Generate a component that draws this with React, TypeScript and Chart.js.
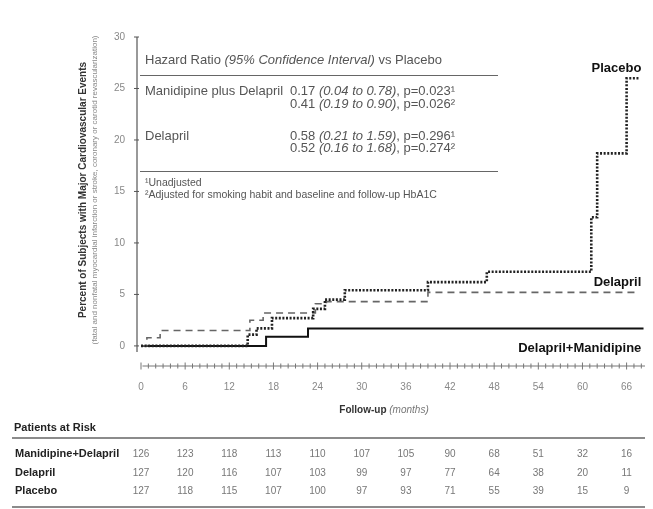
import { useEffect, useRef } from "react";
import { Chart, registerables } from "chart.js";

Chart.register(...registerables);

// Kaplan–Meier step data: event times (months) and cumulative event percentage
const placeboMonths = [0, 14.5, 15.7, 17.8, 23.4, 25.0, 27.7, 39.0, 47.0, 61.2, 62.0, 66.0, 67.8];
const placeboPct = [0, 1.1, 1.7, 2.7, 3.6, 4.5, 5.4, 6.2, 7.2, 12.5, 18.7, 26.0, 26.0];

const delaprilMonths = [0, 0.8, 2.6, 14.8, 16.6, 23.7, 25.2, 39.0, 67.6];
const delaprilPct = [0, 0.8, 1.5, 2.5, 3.2, 4.1, 4.3, 5.2, 5.2];

const comboMonths = [0, 17.0, 22.7, 68.3];
const comboPct = [0, 0.9, 1.7, 1.7];

// Axis ticks
const yTickValues = [0, 5, 10, 15, 20, 25, 30];
const xLabelStep = 6;
const xMinorMonths = Array.from({ length: 69 }, (_, i) => i);

// Patients at risk table
const riskMonths = [0, 6, 12, 18, 24, 30, 36, 42, 48, 54, 60, 66];
const riskRowNames = ["Manidipine+Delapril", "Delapril", "Placebo"];
const riskCombo = [126, 123, 118, 113, 110, 107, 105, 90, 68, 51, 32, 16];
const riskDelapril = [127, 120, 116, 107, 103, 99, 97, 77, 64, 38, 20, 11];
const riskPlacebo = [127, 118, 115, 107, 100, 97, 93, 71, 55, 39, 15, 9];

const FONT = "'Liberation Sans', Arial, sans-serif";

type Seg = { t: string; style?: string };

function drawSegs(ctx: CanvasRenderingContext2D, segs: Seg[], x: number, y: number, size: number, color: string) {
  ctx.fillStyle = color;
  ctx.textBaseline = "middle";
  ctx.textAlign = "left";
  let cx = x;
  for (const s of segs) {
    ctx.font = `${s.style ?? ""} ${size}px ${FONT}`;
    ctx.fillText(s.t, cx, y);
    cx += ctx.measureText(s.t).width;
  }
}

function text(ctx: CanvasRenderingContext2D, t: string, x: number, y: number, font: string, color: string, align: CanvasTextAlign = "left") {
  ctx.font = font;
  ctx.fillStyle = color;
  ctx.textAlign = align;
  ctx.textBaseline = "middle";
  ctx.fillText(t, x, y);
}

const overlay = {
  id: "kmOverlay",
  afterDraw(chart: any) {
    const ctx: CanvasRenderingContext2D = chart.ctx;
    const xs = chart.scales.x;
    const ys = chart.scales.y;
    const area = chart.chartArea;
    ctx.save();

    // y axis line with ticks
    const axX = area.left - 4;
    ctx.strokeStyle = "#555";
    ctx.lineWidth = 1.2;
    ctx.beginPath();
    ctx.moveTo(axX, ys.getPixelForValue(30));
    ctx.lineTo(axX, ys.getPixelForValue(-0.6));
    ctx.stroke();
    ctx.lineWidth = 1;
    for (const v of yTickValues) {
      const py = ys.getPixelForValue(v);
      ctx.beginPath();
      ctx.moveTo(axX - 3, py);
      ctx.lineTo(axX + 2, py);
      ctx.stroke();
    }

    // x axis line with monthly ticks
    const axY = area.bottom;
    ctx.strokeStyle = "#777";
    ctx.beginPath();
    ctx.moveTo(xs.getPixelForValue(0.2), axY);
    ctx.lineTo(area.right, axY);
    ctx.stroke();
    for (const m of xMinorMonths) {
      const px = xs.getPixelForValue(m);
      const h = m % xLabelStep === 0 ? 3.5 : 2.5;
      ctx.beginPath();
      ctx.moveTo(px, axY - h);
      ctx.lineTo(px, axY + h);
      ctx.stroke();
    }

    // axis titles
    ctx.save();
    ctx.translate(83, 190);
    ctx.rotate(-Math.PI / 2);
    text(ctx, "Percent of Subjects with Major Cardiovascular Events", 0, 0, `bold 10px ${FONT}`, "#333", "center");
    ctx.restore();
    ctx.save();
    ctx.translate(95, 190);
    ctx.rotate(-Math.PI / 2);
    ctx.font = `8px ${FONT}`;
    ctx.fillStyle = "#888";
    ctx.textAlign = "center";
    ctx.textBaseline = "middle";
    ctx.fillText("(fatal and nonfatal myocardial infarction or stroke, coronary or carotid revascularization)", 0, 0, 318);
    ctx.restore();

    ctx.font = `bold 10px ${FONT}`;
    const fw = ctx.measureText("Follow-up ").width;
    ctx.font = `italic 10px ${FONT}`;
    const mw = ctx.measureText("(months)").width;
    const fx = 384 - (fw + mw) / 2;
    drawSegs(ctx, [{ t: "Follow-up ", style: "bold" }], fx, 410, 10, "#333");
    drawSegs(ctx, [{ t: "(months)", style: "italic" }], fx + fw, 410, 10, "#777");

    // hazard ratio box
    const c = "#555";
    drawSegs(ctx, [{ t: "Hazard Ratio " }, { t: "(95% Confidence Interval)", style: "italic" }, { t: " vs Placebo" }], 145, 60, 13, c);
    ctx.strokeStyle = "#666";
    ctx.lineWidth = 1;
    ctx.beginPath();
    ctx.moveTo(140, 75.5);
    ctx.lineTo(498, 75.5);
    ctx.moveTo(140, 171.5);
    ctx.lineTo(498, 171.5);
    ctx.stroke();
    drawSegs(ctx, [{ t: "Manidipine plus Delapril" }], 145, 91, 13, c);
    drawSegs(ctx, [{ t: "0.17 " }, { t: "(0.04 to 0.78)", style: "italic" }, { t: ", p=0.023¹" }], 290, 91, 13, c);
    drawSegs(ctx, [{ t: "0.41 " }, { t: "(0.19 to 0.90)", style: "italic" }, { t: ", p=0.026²" }], 290, 104, 13, c);
    drawSegs(ctx, [{ t: "Delapril" }], 145, 136, 13, c);
    drawSegs(ctx, [{ t: "0.58 " }, { t: "(0.21 to 1.59)", style: "italic" }, { t: ", p=0.296¹" }], 290, 136, 13, c);
    drawSegs(ctx, [{ t: "0.52 " }, { t: "(0.16 to 1.68)", style: "italic" }, { t: ", p=0.274²" }], 290, 148, 13, c);
    drawSegs(ctx, [{ t: "¹Unadjusted" }], 145, 183, 10.5, c);
    drawSegs(ctx, [{ t: "²Adjusted for smoking habit and baseline and follow-up HbA1C" }], 145, 195, 10.5, c);

    // curve labels
    const endX = xs.getPixelForValue(68.0);
    text(ctx, "Placebo", endX, ys.getPixelForValue(placeboPct[placeboPct.length - 1]) - 10, `bold 13px ${FONT}`, "#111", "right");
    text(ctx, "Delapril", endX, ys.getPixelForValue(delaprilPct[delaprilPct.length - 1]) - 10, `bold 13px ${FONT}`, "#111", "right");
    text(ctx, "Delapril+Manidipine", endX, ys.getPixelForValue(comboPct[comboPct.length - 1]) + 20, `bold 13px ${FONT}`, "#111", "right");

    // patients at risk table
    text(ctx, "Patients at Risk", 14, 428, `bold 11px ${FONT}`, "#222");
    ctx.strokeStyle = "#666";
    ctx.lineWidth = 1.5;
    ctx.beginPath();
    ctx.moveTo(12, 438);
    ctx.lineTo(645, 438);
    ctx.moveTo(12, 507);
    ctx.lineTo(645, 507);
    ctx.stroke();
    const rows = [riskCombo, riskDelapril, riskPlacebo];
    const rowY = [454, 473, 491];
    rows.forEach((vals, r) => {
      text(ctx, riskRowNames[r], 15, rowY[r], `bold 11px ${FONT}`, "#222");
      vals.forEach((v, i) => {
        text(ctx, String(v), xs.getPixelForValue(riskMonths[i]), rowY[r], `10px ${FONT}`, "#777", "center");
      });
    });

    ctx.restore();
  },
};

function toPoints(xsArr: number[], ysArr: number[]) {
  return xsArr.map((x, i) => ({ x, y: ysArr[i] }));
}

export default function App() {
  const ref = useRef<HTMLCanvasElement>(null);

  useEffect(() => {
    if (!ref.current) return;
    const chart = new Chart(ref.current, {
      type: "line",
      data: {
        datasets: [
          {
            label: "Placebo",
            data: toPoints(placeboMonths, placeboPct),
            stepped: "before",
            borderColor: "#222",
            borderWidth: 2.6,
            borderDash: [2, 1.6],
            pointRadius: 0,
            fill: false,
          },
          {
            label: "Delapril",
            data: toPoints(delaprilMonths, delaprilPct),
            stepped: "before",
            borderColor: "#666",
            borderWidth: 1.6,
            borderDash: [7, 5],
            pointRadius: 0,
            fill: false,
          },
          {
            label: "Delapril+Manidipine",
            data: toPoints(comboMonths, comboPct),
            stepped: "before",
            borderColor: "#111",
            borderWidth: 2,
            pointRadius: 0,
            fill: false,
          },
        ],
      },
      options: {
        responsive: false,
        animation: false,
        devicePixelRatio: 1,
        layout: { padding: { left: 0, right: 8, top: 37, bottom: 0 } },
        plugins: { legend: { display: false }, tooltip: { enabled: false }, title: { display: false } },
        scales: {
          x: {
            type: "linear",
            min: 0,
            max: 68.5,
            grid: { display: false, drawTicks: false },
            border: { display: false },
            afterBuildTicks: (s: any) => {
              s.ticks = riskMonths.map((v) => ({ value: v }));
            },
            afterFit: (s: any) => {
              s.height = 143;
            },
            ticks: {
              autoSkip: false,
              maxRotation: 0,
              padding: 15,
              color: "#888",
              font: { family: FONT, size: 10 },
              callback: (v: any) => String(v),
            },
          },
          y: {
            type: "linear",
            min: -1.95,
            max: 30,
            grid: { display: false, drawTicks: false },
            border: { display: false },
            afterBuildTicks: (s: any) => {
              s.ticks = yTickValues.map((v) => ({ value: v }));
            },
            afterFit: (s: any) => {
              s.width = 141;
            },
            ticks: {
              padding: 16,
              color: "#888",
              font: { family: FONT, size: 10 },
            },
          },
        },
      },
      plugins: [overlay],
    });
    return () => chart.destroy();
  }, []);

  return (
    <div style={{ position: "absolute", left: 0, top: 0, width: 653, height: 509, background: "#fff" }}>
      <canvas ref={ref} width={653} height={509} />
    </div>
  );
}
